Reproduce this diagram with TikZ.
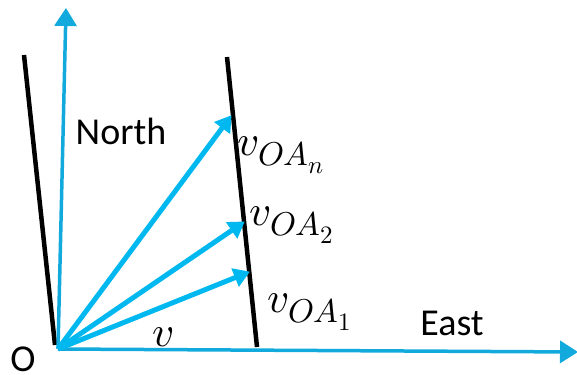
\documentclass[tikz,border=0pt]{standalone}
\usepackage{fontspec}
\setmainfont{Carlito}
\usepackage{unicode-math}
\setmathfont{Latin Modern Math}
\DeclareMathSizes{43}{43}{33}{25}
\usetikzlibrary{arrows.meta}
\definecolor{vblue}{HTML}{00B8F0}
\definecolor{axblue}{HTML}{12AADC}
\begin{document}
\begin{tikzpicture}[x=1pt,y=-1pt,
  axis/.style={draw=axblue,line width=3.5pt,-{Triangle[length=18pt,width=22pt]}},
  vec/.style={draw=vblue,line width=5pt,-{Triangle[length=16pt,width=19pt]},shorten >=-1pt},
  wall/.style={draw=black,line width=4.5pt},
  lbl/.style={font=\fontsize{38}{44}\selectfont,inner sep=0pt},
  mlbl/.style={font=\fontsize{43}{50}\selectfont,inner sep=0pt,anchor=base west}]
\useasboundingbox (0,0) rectangle (577,374);
\coordinate (O) at (58,349);
\coordinate (Ntip) at (66,8);
\coordinate (Etip) at (578,352);
\coordinate (L1) at (24,55);
\coordinate (L2) at (55,345);
\coordinate (R1) at (227,57);
\coordinate (R2) at (257,347);
\coordinate (An) at (231,116);
\coordinate (A2) at (244,222);
\coordinate (A1) at (249,272);
\draw[wall] (L1) -- (L2);
\draw[wall] (R1) -- (R2);
\draw[axis] (O) -- (Ntip);
\draw[axis] (O) -- (Etip);
\draw[vec] (O) -- (An);
\draw[vec] (O) -- (A2);
\draw[vec] (O) -- (A1);
\node[lbl] (north) at (121,131) {North};
\node[lbl] (east) at (452,323) {East};
\node[lbl] (o) at (23,359) {O};
\node[mlbl] (v) at (152,346) {$v$};
\node[mlbl] (vn) at (237,155) {$v_{OA_n}$};
\node[mlbl] (v2) at (249,225) {$v_{OA_2}$};
\node[mlbl] (v1) at (267,312) {$v_{OA_1}$};
\end{tikzpicture}
\end{document}
